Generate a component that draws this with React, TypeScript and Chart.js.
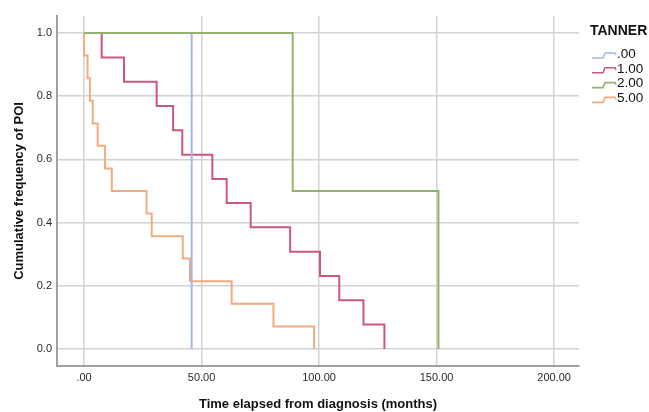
import React, { useEffect, useRef } from 'react';
import { Chart, registerables } from 'chart.js';

Chart.register(...registerables);

const legendTitle = 'TANNER';
const seriesNames = ['.00', '1.00', '2.00', '5.00'];
const seriesColors = ['#a3b6e8', '#cc5585', '#92b26f', '#f2aa7e'];
const seriesOrder = [1, 2, 0, 3];

const tanner0Times = [0, 45.8];
const tanner0Values = [1, 0];

const tanner1Times = [0, 7.5, 17.0, 30.9, 37.9, 41.8, 54.6, 60.7, 70.9, 87.7, 100.4, 108.6, 118.9, 127.8];
const tanner1Values = [1, 0.923, 0.846, 0.769, 0.692, 0.615, 0.538, 0.462, 0.385, 0.308, 0.231, 0.154, 0.077, 0];

const tanner2Times = [0, 88.8, 150.8];
const tanner2Values = [1, 0.5, 0];

const tanner5Times = [0, 0, 1.5, 2.5, 3.7, 5.8, 8.9, 11.8, 26.6, 28.8, 42.0, 45.1, 62.8, 80.6, 97.9];
const tanner5Values = [1, 0.929, 0.857, 0.786, 0.714, 0.643, 0.571, 0.5, 0.429, 0.357, 0.286, 0.214, 0.143, 0.071, 0];

const xTickValues = [0, 50, 100, 150, 200];
const xTickLabels = ['.00', '50.00', '100.00', '150.00', '200.00'];
const yTickValues = [0, 0.2, 0.4, 0.6, 0.8, 1.0];
const yTickLabels = ['0.0', '0.2', '0.4', '0.6', '0.8', '1.0'];

const xTitle = 'Time elapsed from diagnosis (months)';
const yTitle = 'Cumulative frequency of POI';

const FONT = '"Liberation Sans", Arial, Helvetica, sans-serif';

const allTimes = [tanner0Times, tanner1Times, tanner2Times, tanner5Times];
const allValues = [tanner0Values, tanner1Values, tanner2Values, tanner5Values];

const legendPlugin = {
  id: 'tannerLegend',
  afterDraw(chart: any) {
    const { ctx, chartArea } = chart;
    const x0 = chartArea.right + 11;
    ctx.save();
    ctx.textBaseline = 'middle';
    ctx.textAlign = 'left';
    ctx.fillStyle = '#111';
    ctx.font = `bold 14px ${FONT}`;
    ctx.fillText(legendTitle, x0, chartArea.top + 15);
    ctx.font = `13.5px ${FONT}`;
    seriesNames.forEach((name, i) => {
      const y = chartArea.top + 38 + i * 14.8;
      ctx.strokeStyle = seriesColors[i];
      ctx.lineWidth = 1.6;
      ctx.beginPath();
      ctx.moveTo(x0 + 2, y + 4);
      ctx.lineTo(x0 + 13, y + 4);
      ctx.lineTo(x0 + 15, y - 1);
      ctx.lineTo(x0 + 25, y - 1);
      ctx.lineTo(x0 + 26, y + 1);
      ctx.stroke();
      ctx.fillStyle = '#111';
      ctx.fillText(name, x0 + 27, y);
    });
    ctx.restore();
  },
};

export default function App() {
  const ref = useRef<HTMLCanvasElement>(null);

  useEffect(() => {
    document.body.style.margin = '0';
    const datasets = seriesNames.map((name, i) => ({
      label: name,
      data: allTimes[i].map((t, j) => ({ x: t, y: allValues[i][j] })),
      borderColor: seriesColors[i],
      backgroundColor: seriesColors[i],
      borderWidth: 2,
      pointRadius: 0,
      fill: false,
      stepped: 'before' as const,
      order: seriesOrder[i],
    }));

    const chart = new Chart(ref.current!, {
      type: 'line',
      data: { datasets },
      plugins: [legendPlugin],
      options: {
        animation: false,
        responsive: false,
        maintainAspectRatio: false,
        layout: { padding: { top: 16, right: 70, left: 0, bottom: 0 } },
        plugins: {
          legend: { display: false },
          tooltip: { enabled: false },
        },
        scales: {
          x: {
            type: 'linear',
            min: -11.5,
            max: 210.6,
            afterBuildTicks: (s: any) => {
              s.ticks = xTickValues.map((v) => ({ value: v }));
            },
            afterFit: (s: any) => {
              s.height = 46;
            },
            ticks: {
              callback: (_v: any, i: number) => xTickLabels[i],
              font: { family: FONT, size: 11 },
              color: '#2a2a2a',
              padding: 5,
              maxRotation: 0,
              autoSkip: false,
            },
            grid: { color: '#d2d2d2', lineWidth: 1.5, drawTicks: false },
            border: { color: '#a0a0a0', width: 2 },
            title: {
              display: true,
              text: xTitle,
              font: { family: FONT, size: 13, weight: 'bold' },
              color: '#111',
              padding: { top: 0, bottom: 0 },
            },
          },
          y: {
            type: 'linear',
            min: -0.054,
            max: 1.054,
            afterBuildTicks: (s: any) => {
              s.ticks = yTickValues.map((v) => ({ value: v }));
            },
            afterFit: (s: any) => {
              s.width = 57;
            },
            ticks: {
              callback: (_v: any, i: number) => yTickLabels[i],
              font: { family: FONT, size: 11 },
              color: '#2a2a2a',
              padding: 5,
              autoSkip: false,
            },
            grid: { color: '#d2d2d2', lineWidth: 1.5, drawTicks: false },
            border: { color: '#a0a0a0', width: 2 },
            title: {
              display: true,
              text: yTitle,
              font: { family: FONT, size: 13, weight: 'bold' },
              color: '#111',
              padding: { top: 12, bottom: 0 },
            },
          },
        },
      },
    });
    return () => chart.destroy();
  }, []);

  return (
    <div style={{ width: 649, height: 412 }}>
      <canvas ref={ref} width={649} height={412} style={{ display: 'block' }} />
    </div>
  );
}
